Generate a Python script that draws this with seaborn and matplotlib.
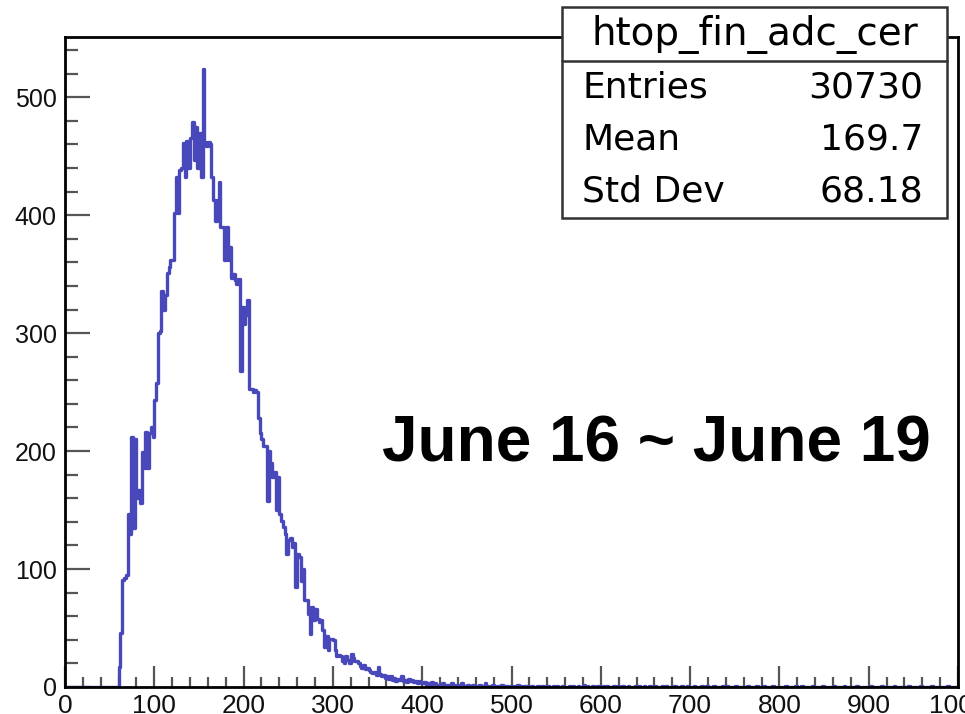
import numpy as np
import pandas as pd
import matplotlib
matplotlib.use("Agg")
import matplotlib.pyplot as plt
import seaborn as sns
from matplotlib.patches import Rectangle
from matplotlib.lines import Line2D
from matplotlib.ticker import MultipleLocator

# ---------------- data (bin width 2, range 0..1000) ----------------
bin_width = 2
x_min, x_max = 0, 1000
main_start = 60  # left edge of first entry of counts_main

counts_main = [
    17, 46, 91, 92, 95, 147, 130, 212, 135, 210,
    160, 167, 156, 199, 186, 216, 186, 215, 220, 212,
    243, 258, 300, 302, 336, 320, 332, 351, 356, 362,
    362, 402, 432, 402, 438, 440, 461, 432, 463, 440,
    465, 479, 447, 475, 440, 470, 432, 524, 462, 459,
    462, 460, 432, 413, 395, 413, 428, 390, 390, 362,
    390, 362, 373, 347, 350, 345, 342, 346, 268, 322,
    308, 315, 328, 253, 253, 250, 252, 250, 228, 215,
    210, 204, 204, 158, 200, 190, 178, 182, 150, 178,
    147, 141, 136, 130, 113, 125, 126, 119, 122, 85,
    113, 110, 90, 100, 74, 74, 62, 45, 68, 57,
    66, 58, 55, 57, 48, 34, 43, 31, 41, 41,
    40, 31, 26, 27, 26, 22, 20, 26, 23, 20,
    28, 25, 22, 22, 20, 18, 16, 19, 15, 16,
    14, 13, 12, 13, 10, 17, 11, 9, 10, 8,
    9, 7, 9, 6, 8, 5, 7, 6, 9, 5,
    6, 4, 7, 5, 6, 4, 5, 3, 5, 4,
    3, 4, 2, 3, 2, 4, 2, 3, 1, 2,
]

counts_tail_near = [  # 420..498
    2, 3, 1, 2, 2, 1, 3, 2, 1, 2,
    1, 2, 3, 1, 1, 2, 1, 0, 2, 1,
    1, 1, 2, 0, 1, 3, 1, 1, 0, 2,
    1, 0, 1, 1, 2, 0, 1, 1, 0, 1,
]

counts_tail_far = [  # 500..998
    1, 0, 1, 2, 0, 1, 0, 1, 1, 0,
    0, 1, 0, 0, 1, 1, 0, 1, 0, 0,
    1, 0, 0, 1, 0, 1, 0, 0, 1, 0,
    0, 0, 1, 0, 1, 0, 0, 1, 0, 0,
    2, 0, 1, 0, 0, 1, 0, 0, 1, 0,
    0, 1, 0, 1, 0, 0, 0, 1, 0, 1,
    0, 0, 1, 0, 0, 1, 0, 0, 0, 1,
    0, 1, 0, 0, 1, 0, 0, 1, 0, 0,
    1, 0, 0, 0, 1, 0, 1, 0, 0, 0,
    0, 1, 0, 0, 0, 1, 0, 0, 1, 0,
    0, 0, 1, 0, 0, 0, 1, 0, 0, 1,
    0, 0, 0, 1, 0, 0, 0, 0, 1, 0,
    1, 0, 0, 0, 0, 1, 0, 0, 0, 0,
    0, 0, 1, 0, 0, 0, 0, 1, 0, 0,
    0, 1, 0, 0, 0, 0, 1, 0, 0, 0,
    0, 0, 0, 1, 0, 0, 0, 0, 0, 1,
    0, 0, 1, 0, 0, 0, 0, 0, 1, 0,
    0, 0, 0, 0, 1, 0, 0, 0, 0, 0,
    1, 0, 0, 0, 0, 0, 1, 0, 0, 0,
    0, 0, 0, 1, 0, 0, 0, 0, 0, 0,
    0, 1, 0, 0, 0, 0, 0, 1, 0, 0,
    0, 0, 0, 0, 1, 0, 0, 0, 0, 0,
    0, 0, 1, 0, 0, 0, 0, 0, 0, 1,
    0, 0, 0, 0, 0, 1, 0, 0, 0, 0,
    0, 0, 0, 0, 1, 0, 0, 0, 0, 0,
]

hist_name = "htop_fin_adc_cer"
stat_labels = ["Entries", "Mean", "Std Dev"]
stat_values = ["30730", "169.7", "68.18"]
annotation = "June 16 ~ June 19"
y_max = 551
x_tick_labels = ["0", "100", "200", "300", "400", "500", "600", "700", "800", "900", "1000"]
y_tick_labels = ["0", "100", "200", "300", "400", "500"]

# ---------------- build table ----------------
n_lead = (main_start - x_min) // bin_width
counts = [0] * n_lead + counts_main + counts_tail_near + counts_tail_far
centers = x_min + bin_width * (np.arange(len(counts)) + 0.5)
df = pd.DataFrame({"adc": centers, "count": np.asarray(counts, dtype=float)})

# ---------------- figure ----------------
W, H = 965, 714
sns.set_theme(style="white")
plt.rcParams["font.family"] = ["Liberation Sans", "DejaVu Sans"]

fig = plt.figure(figsize=(W / 100, H / 100), dpi=100)

def fx(px):
    return px / W

def fy(py):
    return 1 - py / H

ax_l, ax_r, ax_t, ax_b = 65, 958, 37, 687
ax = fig.add_axes([fx(ax_l), fy(ax_b), fx(ax_r) - fx(ax_l), fy(ax_t) - fy(ax_b)])

sns.histplot(data=df, x="adc", weights="count", binwidth=bin_width,
             binrange=(x_min, x_max), element="step",
             fill=False, color="#4848bb", linewidth=2.4, ax=ax)

ax.set_xlim(x_min, x_max)
ax.set_ylim(0, y_max)
ax.set_xlabel("")
ax.set_ylabel("")
ax.grid(False)

ax.set_xticks([int(t) for t in x_tick_labels])
ax.set_xticklabels(x_tick_labels)
ax.set_yticks([int(t) for t in y_tick_labels])
ax.set_yticklabels(y_tick_labels)
ax.xaxis.set_minor_locator(MultipleLocator(20))
ax.yaxis.set_minor_locator(MultipleLocator(20))

ax.tick_params(axis="x", which="major", direction="in", length=15, width=1.6,
               color="#555555", labelsize=19, labelcolor="#111111", pad=5,
               bottom=True, top=False)
ax.tick_params(axis="x", which="minor", direction="in", length=7, width=1.6,
               color="#555555", bottom=True, top=False)
ax.tick_params(axis="y", which="major", direction="in", length=18, width=1.6,
               color="#555555", labelsize=18, labelcolor="#111111", pad=6,
               left=True, right=False)
ax.tick_params(axis="y", which="minor", direction="in", length=9, width=1.6,
               color="#555555", left=True, right=False)

for sp in ax.spines.values():
    sp.set_visible(True)
    sp.set_color("black")
    sp.set_linewidth(2.0)

# ---------------- stats box ----------------
bx_l, bx_r, bx_t, bx_b = 562, 947, 7, 218
sep_y = 61
rect = Rectangle((fx(bx_l), fy(bx_b)), fx(bx_r) - fx(bx_l), fy(bx_t) - fy(bx_b),
                 transform=fig.transFigure, facecolor="white", edgecolor="#333333",
                 linewidth=1.8, zorder=5)
fig.add_artist(rect)
fig.add_artist(Line2D([fx(bx_l), fx(bx_r)], [fy(sep_y), fy(sep_y)],
                      transform=fig.transFigure, color="#333333", linewidth=1.8, zorder=6))

box_font = ["DejaVu Sans"]
fig.text(fx((bx_l + bx_r) / 2), fy(34), hist_name, ha="center", va="center",
         fontsize=28, family=box_font, color="black", zorder=7)
row_y = [88, 140, 192]
for lab, val, yy in zip(stat_labels, stat_values, row_y):
    fig.text(fx(582), fy(yy), lab, ha="left", va="center", fontsize=26,
             family=box_font, color="black", zorder=7)
    fig.text(fx(923), fy(yy), val, ha="right", va="center", fontsize=26,
             family=box_font, color="black", zorder=7)

# ---------------- annotation ----------------
fig.text(fx(656), fy(445), annotation, ha="center", va="center",
         fontsize=46, fontweight="bold", color="black", zorder=7)

fig.savefig("out.png", dpi=100)
